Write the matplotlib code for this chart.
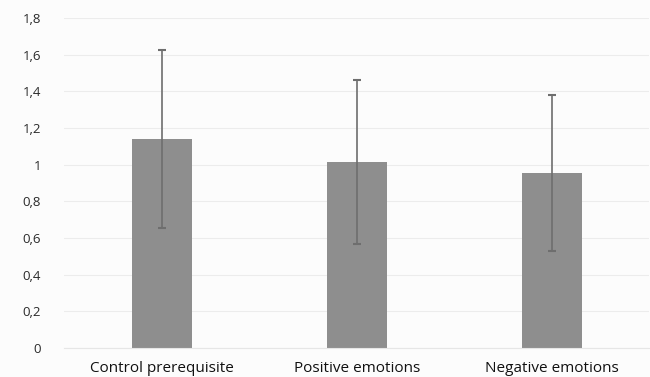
import numpy as np
import matplotlib.pyplot as plt

categories = ["Control prerequisite", "Positive emotions", "Negative emotions"]
means = [1.14, 1.015, 0.955]
errors = [0.485, 0.45, 0.425]
y_ticks = [0, 0.2, 0.4, 0.6, 0.8, 1.0, 1.2, 1.4, 1.6, 1.8]
y_tick_labels = ["0", "0,2", "0,4", "0,6", "0,8", "1", "1,2", "1,4", "1,6", "1,8"]

plt.rcParams['font.family'] = ['Open Sans', 'DejaVu Sans']

fig = plt.figure(figsize=(6.5, 3.77), dpi=100, facecolor="#fcfcfc")
ax = fig.add_axes([0.0992, 0.0769, 0.9, 0.875])
ax.set_facecolor("#fcfcfc")

x = np.arange(len(categories))
ax.bar(x, means, width=0.31, color="#8e8e8e", zorder=2)
ax.errorbar(x, means, yerr=errors, fmt="none", ecolor="#6e6e6e",
            elinewidth=1.2, capsize=2.6, capthick=1.5, zorder=3)

ax.set_xlim(-0.5, 2.5)
ax.set_ylim(0, 1.8)
ax.set_yticks(y_ticks)
ax.set_yticklabels(y_tick_labels, fontsize=9.5, color="#2a2a2a")
ax.set_xticks(x)
ax.set_xticklabels(categories, fontsize=11, color="#111111")

ax.grid(axis="y", color="#ececec", linewidth=0.8, zorder=0)
ax.tick_params(axis="y", length=0, pad=17)
ax.tick_params(axis="x", length=0, pad=9)
for side in ["top", "right", "left"]:
    ax.spines[side].set_visible(False)
ax.spines["bottom"].set_color("#e6e6e6")

fig.savefig("out.png", dpi=100, facecolor=fig.get_facecolor())
